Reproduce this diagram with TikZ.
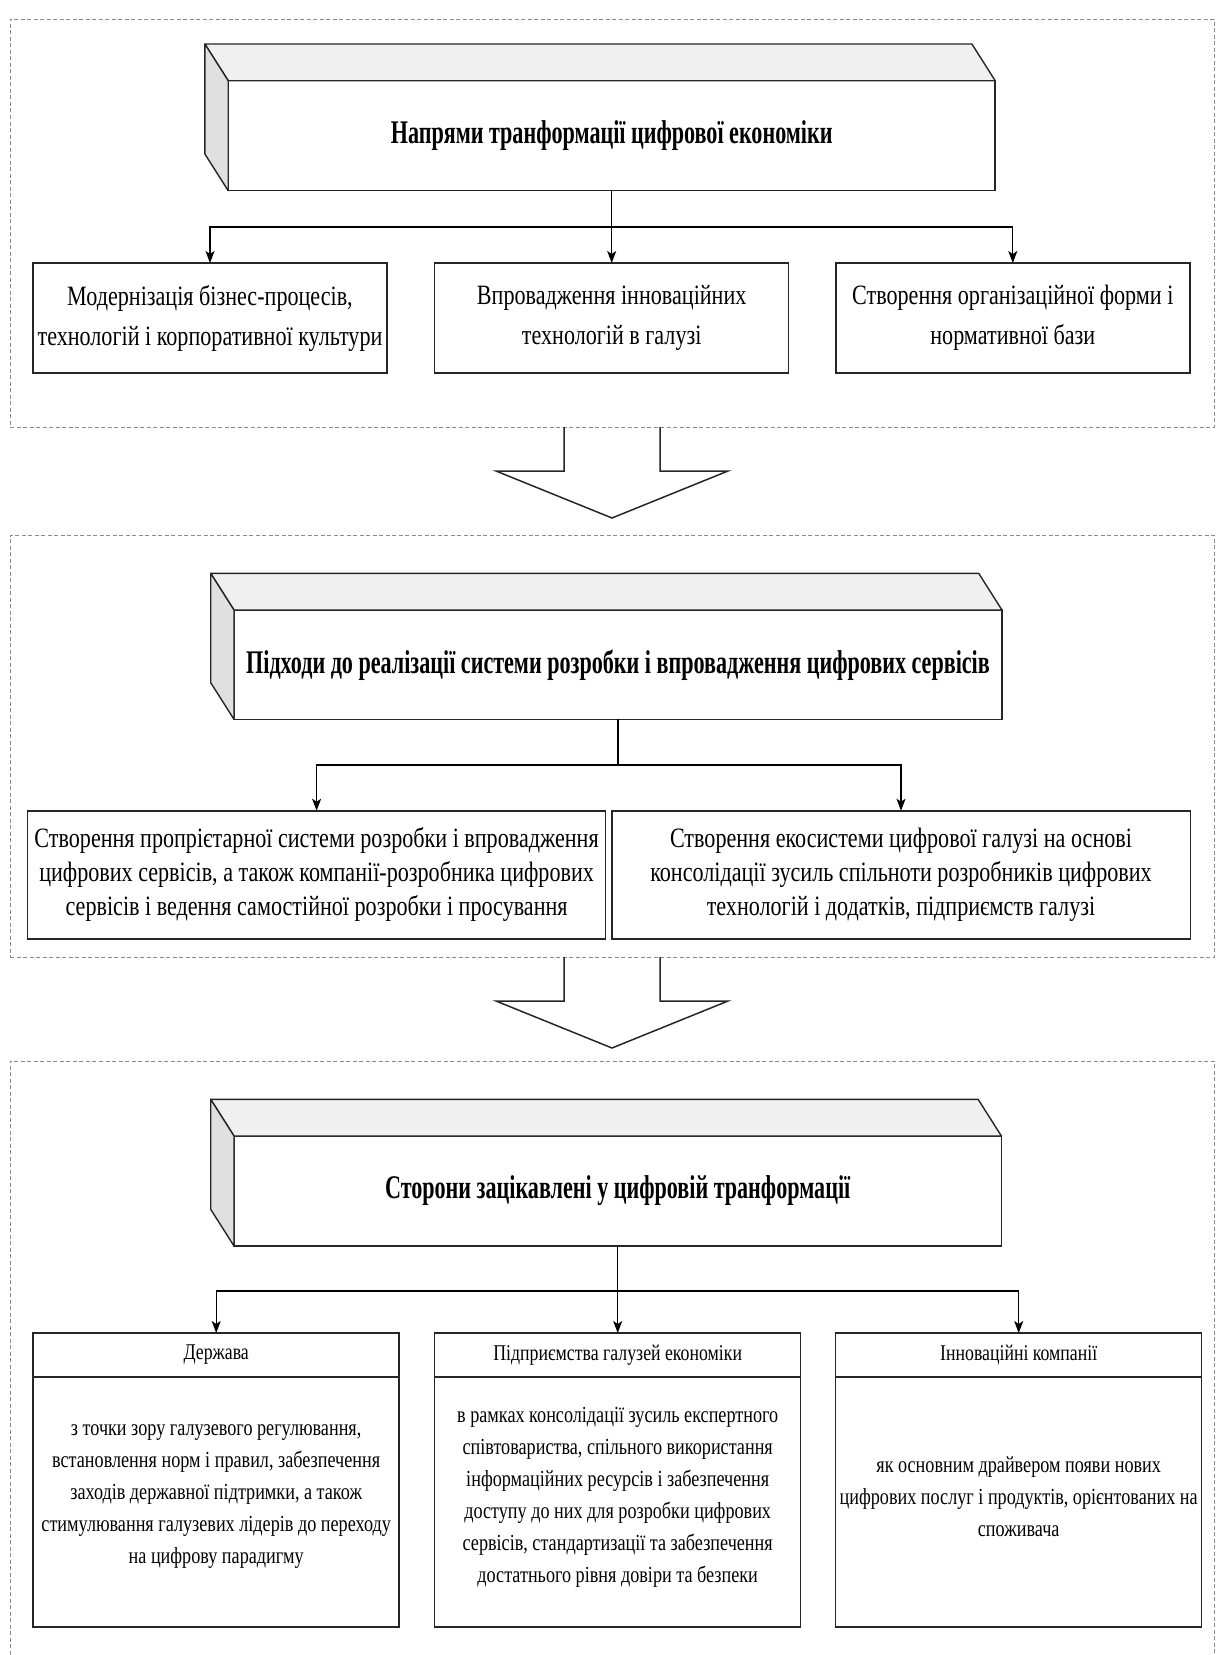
\documentclass[tikz,border=0pt]{standalone}
\usepackage{fontspec}
\setmainfont{Liberation Serif}
\newfontfamily\rowfont{Liberation Serif}[FakeStretch=0.79]
\newfontfamily\titlefont{Liberation Serif}[FakeStretch=0.67]
\usetikzlibrary{arrows.meta,calc}

% side and top faces of a raised title block
\newcommand\depthfaces[1]{%
  \filldraw[face, fill=black!6] (#1.north west) -- ++(-23.3,-36.7)
    -- ($(#1.north east)+(-23.3,-36.7)$) -- (#1.north east) -- cycle;
  \filldraw[face, fill=black!12] (#1.north west) -- ++(-23.3,-36.7)
    -- ($(#1.south west)+(-23.3,-36.7)$) -- (#1.south west) -- cycle;}

% hollow block arrow hanging below a section frame
\newcommand\blockarrow[1]{%
  \draw[bigarrow] ($(#1.south)+(-48,0)$) -- ++(0,44) -- ++(-68,0)
    -- ($(#1.south)+(0,91)$) -- ($(#1.south)+(116,44)$) -- ++(-68,0) -- ++(0,-44);}

\begin{document}
\begin{tikzpicture}[x=1pt,y=-1pt,
  frame/.style={draw=black!45, line width=1pt, dash pattern=on 4pt off 2.5pt,
    inner sep=0pt, outer sep=0pt},
  face/.style={draw=black!85, line width=1.4pt, line join=round},
  front/.style={draw=black!85, line width=1.5pt, fill=white, inner sep=0pt,
    outer sep=0pt, align=center, font=\titlefont\bfseries\fontsize{33}{38}\selectfont},
  box/.style={draw=black!85, line width=1.5pt, fill=white, inner sep=0pt,
    outer sep=0pt, align=center},
  rowtext/.style={font=\rowfont\fontsize{28}{40}\selectfont},
  rowtexttwo/.style={font=\rowfont\fontsize{28}{34}\selectfont},
  headtext/.style={font=\rowfont\fontsize{22.5}{28}\selectfont},
  celltext/.style={inner sep=0pt, align=center, font=\rowfont\fontsize{23}{32}\selectfont},
  conn/.style={draw=black, line width=1.3pt, -{Stealth[length=12pt,width=9pt,inset=3pt]}},
  link/.style={draw=black, line width=1.3pt},
  bigarrow/.style={draw=black!85, line width=1.5pt, line join=miter}
]
\useasboundingbox (0,0) rectangle (1217,1655);

% ---------- section 1 ----------
\node[frame, minimum width=1204pt, minimum height=408pt] (sec1) at (612,223) {};
\node[front, minimum width=767pt, minimum height=110pt] (t1) at (611.7,135.7)
  {Напрями транформації цифрової економіки};
\depthfaces{t1}
\coordinate (j1) at (611.7,227);

\node[box, rowtext, minimum width=354pt, minimum height=110pt] (a1) at (210,318)
  {Модернізація бізнес-процесів,\\технологій і корпоративної культури};
\node[box, rowtext, minimum width=354pt, minimum height=110pt] (a2) at (611.7,318)
  {Впровадження інноваційних\\технологій в галузі};
\node[box, rowtext, minimum width=354pt, minimum height=110pt] (a3) at (1012.8,318)
  {Створення організаційної форми і\\нормативної бази};

\draw[link] (t1.south) -- (j1);
\draw[conn] (j1) -| (a1.north);
\draw[conn] (j1) -- (a2.north);
\draw[conn] (j1) -| (a3.north);

\blockarrow{sec1}

% ---------- section 2 ----------
\node[frame, minimum width=1204pt, minimum height=422pt] (sec2) at (612,746) {};
\node[front, minimum width=768pt, minimum height=109.3pt] (t2) at (618,664.7)
  {Підходи до реалізації системи розробки і впровадження цифрових сервісів};
\depthfaces{t2}
\coordinate (j2) at (618,765);

\node[box, rowtexttwo, minimum width=578pt, minimum height=128.3pt] (b1) at (316.6,874.9)
  {Створення пропрієтарної системи розробки і впровадження\\цифрових сервісів, а також компанії-розробника цифрових\\сервісів і ведення самостійної розробки і просування};
\node[box, rowtexttwo, minimum width=578.5pt, minimum height=128.3pt] (b2) at (901,874.9)
  {Створення екосистеми цифрової галузі на основі\\консолідації зусиль спільноти розробників цифрових\\технологій і додатків, підприємств галузі};

\draw[link] (t2.south) -- (j2);
\draw[conn] (j2) -| (b1.north);
\draw[conn] (j2) -| (b2.north);

\blockarrow{sec2}

% ---------- section 3 ----------
\draw[frame] (10,1700) -- (10,1061) -- (1214,1061) -- (1214,1700);
\node[front, minimum width=767.4pt, minimum height=110pt] (t3) at (617.7,1191)
  {Сторони зацікавлені у цифровій транформації};
\depthfaces{t3}
\coordinate (j3) at (617.7,1291);

% three stakeholder cards: a heading strip over a text panel
\node[box, headtext, minimum width=366pt, minimum height=44pt] (h1) at (216.2,1355) {Держава};
\node[box, minimum width=366pt, minimum height=250pt, anchor=north] (d1) at (h1.south) {};
\node[celltext] (d1t) at ($(d1.center)+(0,-5)$)
  {з точки зору галузевого регулювання,\\встановлення норм і правил, забезпечення\\заходів державної підтримки, а також\\стимулювання галузевих лідерів до переходу\\на цифрову парадигму};

\node[box, headtext, minimum width=366pt, minimum height=44pt] (h2) at (617.7,1355) {Підприємства галузей економіки};
\node[box, minimum width=366pt, minimum height=250pt, anchor=north] (d2) at (h2.south) {};
\node[celltext] (d2t) at ($(d2.center)+(0,-5)$)
  {в рамках консолідації зусиль експертного\\співтовариства, спільного використання\\інформаційних ресурсів і забезпечення\\доступу до них для розробки цифрових\\сервісів, стандартизації та забезпечення\\достатнього рівня довіри та безпеки};

\node[box, headtext, minimum width=366pt, minimum height=44pt] (h3) at (1018.7,1355) {Інноваційні компанії};
\node[box, minimum width=366pt, minimum height=250pt, anchor=north] (d3) at (h3.south) {};
\node[celltext] (d3t) at ($(d3.center)+(0,-5)$)
  {як основним драйвером появи нових\\цифрових послуг і продуктів, орієнтованих на\\споживача};

\draw[link] (t3.south) -- (j3);
\draw[conn] (j3) -| (h1.north);
\draw[conn] (j3) -- (h2.north);
\draw[conn] (j3) -| (h3.north);
\end{tikzpicture}
\end{document}
